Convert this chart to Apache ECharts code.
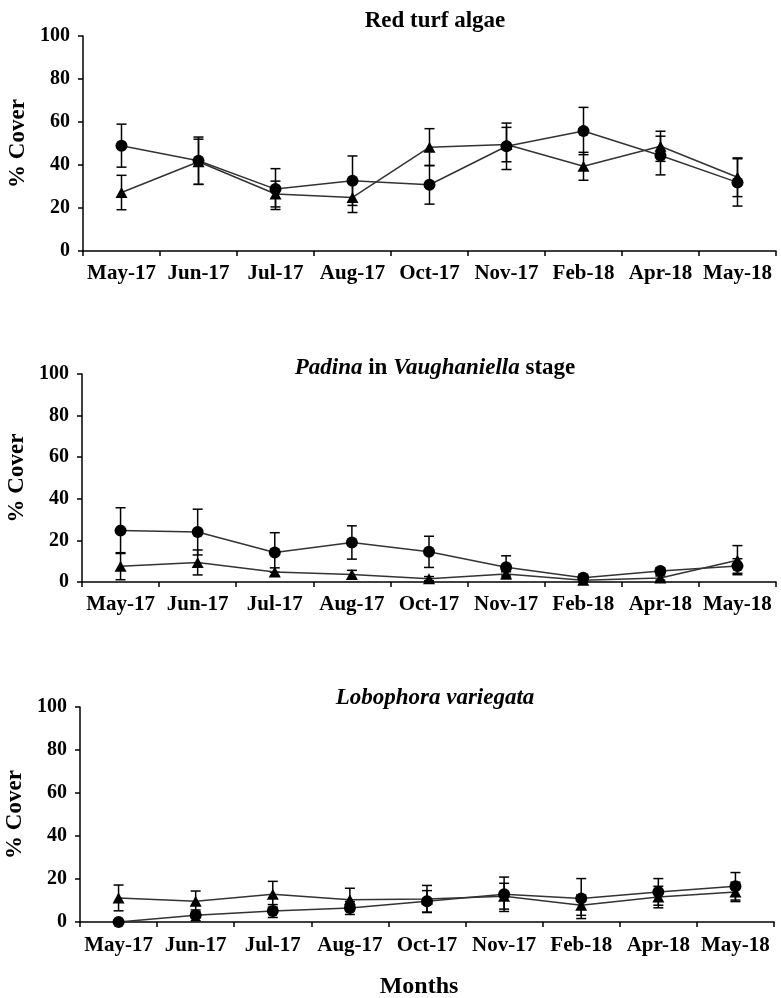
<!DOCTYPE html>
<html>
<head>
<meta charset="utf-8">
<script src="https://cdn.jsdelivr.net/npm/echarts@6/dist/echarts.min.js"></script>
<style>
html,body{margin:0;padding:0;background:#fff;}
#chart{width:781px;height:998px;}
</style>
</head>
<body>
<div id="chart"></div>
<script>
const months = ['May-17','Jun-17','Jul-17','Aug-17','Oct-17','Nov-17','Feb-18','Apr-18','May-18'];
const yTicks = [0, 20, 40, 60, 80, 100];

// Red turf algae
const turfCircle = [49, 42, 28.8, 32.7, 30.8, 48.7, 55.8, 44.4, 31.9];
const turfCircleErr = [10, 11, 9.5, 11.5, 9, 10.8, 11, 9, 11];
const turfTriangle = [27.2, 41.5, 26.5, 24.9, 48.3, 49.5, 39.4, 48.7, 34.3];
const turfTriangleErr = [8, 10.5, 6, 7, 8.6, 8, 6.5, 7, 9];

// Padina in Vaughaniella stage
const padinaCircle = [24.7, 24, 14.2, 19, 14.5, 7.1, 2.1, 5.3, 7.7];
const padinaCircleErr = [11, 11, 9.5, 8, 7.5, 5.5, 1.5, 1.5, 3.5];
const padinaTriangle = [7.6, 9.4, 4.8, 3.6, 1.6, 3.9, 0.8, 1.9, 10.5];
const padinaTriangleErr = [6.5, 6, 2, 2, 1, 1, 0.8, 1, 7];

// Lobophora variegata
const loboCircle = [0, 3.1, 5.1, 6.5, 9.6, 12.9, 10.9, 14, 16.6];
const loboCircleErr = [0, 2.5, 3, 3, 5, 8, 9.3, 6.2, 6.4];
const loboTriangle = [11.2, 9.6, 12.9, 10.4, 10.7, 12, 7.8, 11.6, 14];
const loboTriangleErr = [6, 4.8, 6, 5.3, 6.3, 6, 4.7, 5, 4.5];

const FONT = '"Liberation Serif", "Times New Roman", serif';

const panels = [
  {title: 'Red turf algae', titleTop: 5, c: turfCircle, ce: turfCircleErr, t: turfTriangle, te: turfTriangleErr},
  {title: '{i|Padina} in {i|Vaughaniella} stage', titleTop: 352, c: padinaCircle, ce: padinaCircleErr, t: padinaTriangle, te: padinaTriangleErr},
  {title: '{i|Lobophora variegata}', titleTop: 682, c: loboCircle, ce: loboCircleErr, t: loboTriangle, te: loboTriangleErr}
];

const grids = [
  {left: 83, right: 5, top: 36, height: 215, outerBoundsMode: 'none', containLabel: false},
  {left: 82, right: 5, top: 374, height: 208, outerBoundsMode: 'none', containLabel: false},
  {left: 80, right: 7, top: 707, height: 215, outerBoundsMode: 'none', containLabel: false}
];

function errData(mean, err) {
  return mean.map((m, i) => [i, m - err[i], m + err[i]]);
}

function errRender(params, api) {
  const x = api.value(0);
  const lo = api.coord([x, api.value(1)]);
  const hi = api.coord([x, api.value(2)]);
  if (Math.abs(hi[1] - lo[1]) < 0.5) return null;
  const hw = 5;
  const style = {stroke: '#000', lineWidth: 1.5};
  return {
    type: 'group',
    children: [
      {type: 'line', shape: {x1: lo[0], y1: lo[1], x2: hi[0], y2: hi[1]}, style: style},
      {type: 'line', shape: {x1: lo[0] - hw, y1: lo[1], x2: lo[0] + hw, y2: lo[1]}, style: style},
      {type: 'line', shape: {x1: hi[0] - hw, y1: hi[1], x2: hi[0] + hw, y2: hi[1]}, style: style}
    ]
  };
}

const titles = panels.map((p, i) => ({
  text: p.title,
  left: 430,
  top: p.titleTop,
  textAlign: 'center',
  textStyle: {
    fontFamily: FONT, fontSize: 23, fontWeight: 'bold', color: '#000',
    rich: {i: {fontFamily: FONT, fontSize: 23, fontWeight: 'bold', fontStyle: 'italic', color: '#000'}}
  }
}));

const xAxes = grids.map((g, i) => ({
  type: 'category',
  gridIndex: i,
  data: months,
  boundaryGap: true,
  axisLine: {lineStyle: {color: '#000', width: 1.5}},
  axisTick: {show: true, length: 5, lineStyle: {color: '#000', width: 1.5}},
  axisLabel: {color: '#000', fontFamily: FONT, fontSize: 21, fontWeight: 'bold', margin: i === 2 ? 13 : 12, interval: 0},
  name: i === 2 ? 'Months' : '',
  nameLocation: 'middle',
  nameGap: 53,
  nameTextStyle: {color: '#000', fontFamily: FONT, fontSize: 24, fontWeight: 'bold', padding: [0, 16, 0, 0]}
}));

const yAxes = grids.map((g, i) => ({
  type: 'value',
  gridIndex: i,
  min: yTicks[0],
  max: yTicks[yTicks.length - 1],
  interval: 20,
  axisLine: {show: true, lineStyle: {color: '#000', width: 1.5}},
  axisTick: {show: true, length: 5, lineStyle: {color: '#000', width: 1.5}},
  splitLine: {show: false},
  axisLabel: {color: '#000', fontFamily: FONT, fontSize: 20, fontWeight: 'bold', margin: 13},
  name: '% Cover',
  nameLocation: 'middle',
  nameRotate: 90,
  nameGap: 50,
  nameTextStyle: {color: '#000', fontFamily: FONT, fontSize: 23, fontWeight: 'bold'}
}));

const series = [];
panels.forEach((p, i) => {
  series.push({
    type: 'custom', xAxisIndex: i, yAxisIndex: i, renderItem: errRender,
    data: errData(p.c, p.ce), z: 3, silent: true
  });
  series.push({
    type: 'custom', xAxisIndex: i, yAxisIndex: i, renderItem: errRender,
    data: errData(p.t, p.te), z: 3, silent: true
  });
  series.push({
    type: 'line', xAxisIndex: i, yAxisIndex: i, data: p.c,
    symbol: 'circle', symbolSize: 12, showSymbol: true,
    lineStyle: {color: '#333', width: 1.5},
    itemStyle: {color: '#000'}, z: 4, animation: false
  });
  series.push({
    type: 'line', xAxisIndex: i, yAxisIndex: i, data: p.t,
    symbol: 'triangle', symbolSize: [12, 11], showSymbol: true,
    lineStyle: {color: '#333', width: 1.5},
    itemStyle: {color: '#000'}, z: 4, animation: false
  });
});

const chart = echarts.init(document.getElementById('chart'), null, {renderer: 'canvas'});
chart.setOption({
  animation: false,
  backgroundColor: '#fff',
  title: titles,
  grid: grids,
  xAxis: xAxes,
  yAxis: yAxes,
  series: series
});
</script>
</body>
</html>
